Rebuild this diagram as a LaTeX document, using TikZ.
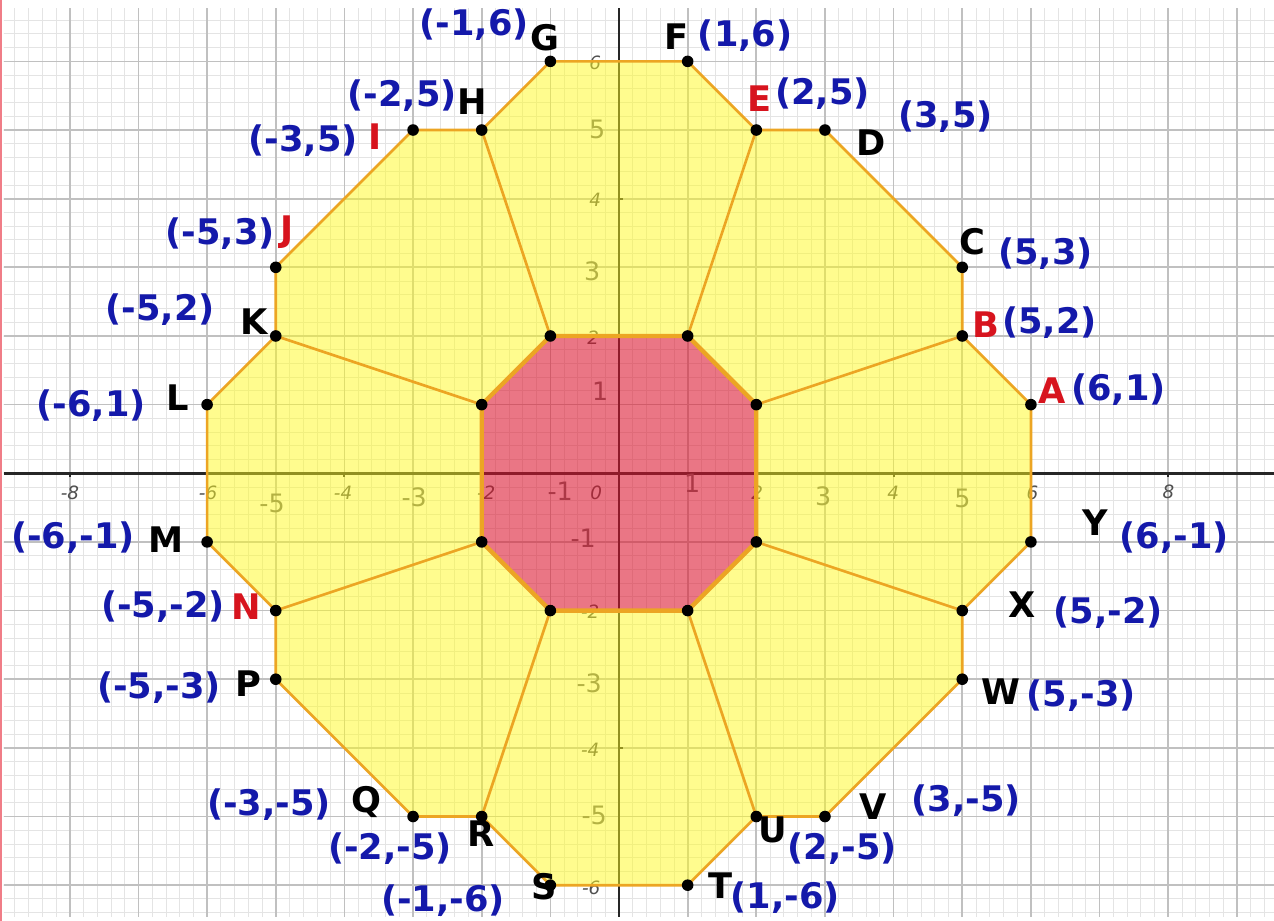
\documentclass[tikz,border=0pt]{standalone}
\usepackage{fontspec}
\newfontfamily\lbl{DejaVu Sans}
\definecolor{coordblue}{RGB}{20,25,170}
\definecolor{ptred}{RGB}{215,20,30}
\definecolor{edgeor}{RGB}{236,165,35}
\definecolor{petal}{RGB}{255,250,30}
\definecolor{core}{RGB}{220,20,45}
\definecolor{minorg}{RGB}{228,228,228}
\definecolor{majorg}{RGB}{192,192,192}
\definecolor{ticklbl}{RGB}{80,80,80}
\definecolor{leftbar}{RGB}{240,125,135}
\tikzset{
  coordlbl/.style={text=coordblue, font=\lbl\bfseries\fontsize{14.6}{16}\selectfont, inner sep=0pt},
  ptlbl/.style={text=black, font=\lbl\bfseries\fontsize{14.6}{16}\selectfont, inner sep=0pt},
  ptlblred/.style={text=ptred, font=\lbl\bfseries\fontsize{14.6}{16}\selectfont, inner sep=0pt},
  ticksmall/.style={text=ticklbl, font=\lbl\itshape\fontsize{7.6}{9}\selectfont, inner sep=0pt},
  tickbig/.style={text=ticklbl!85, font=\lbl\fontsize{10.5}{12}\selectfont, inner sep=0pt},
  dot/.style={circle, fill=black, inner sep=0pt, minimum size=4.8pt},
  edge/.style={edgeor, line width=1.1pt, line join=round, line cap=round},
  coreedge/.style={edgeor, line width=1.8pt, line join=round},
  axisline/.style={black!85, line width=1.2pt},
}
\begin{document}
\begin{tikzpicture}
\useasboundingbox (-9.017,-6.521) rectangle (9.541,6.894);
\fill[white] (-9.017,-6.521) rectangle (9.541,6.894);
% grid
\begin{scope}
\clip (-8.96,-6.462) rectangle (9.541,6.773);
\draw[minorg, line width=0.35pt, step=0.2] (-9.2,-6.8) grid (9.8,7);
\draw[majorg, line width=0.7pt, step=1] (-10,-7) grid (10,7);
\end{scope}
\fill[leftbar] (-9.017,-6.521) rectangle (-8.985,6.894);
% axes
\coordinate (xl) at (-8.96,0);
\coordinate (xr) at (9.541,0);
\coordinate (yt) at (0,6.773);
\coordinate (yb) at (0,-6.462);
\draw[axisline] (xl) -- (xr);
\draw[axisline] (yb) -- (yt);
\foreach \t in {-8,-6,-4,-2,2,4,6,8} {
  \draw[black!85, line width=0.8pt] (\t,0) -- (\t,-0.06);
}
\foreach \t in {-6,-4,-2,2,4,6} {
  \draw[black!85, line width=0.8pt] (0,\t) -- (0.06,\t);
}
% tick labels (pixel coordinates)
\begin{scope}[shift={(-9.017,6.894)}, x=0.014567cm, y=-0.014567cm]
\node[ticksmall] (tm8) at (70,493) {-8};
\node[ticksmall] (tm6) at (208,493) {-6};
\node[tickbig]   (tm5) at (272,503) {-5};
\node[ticksmall] (tm4) at (343,493) {-4};
\node[tickbig]   (tm3) at (414,497) {-3};
\node[ticksmall] (tm2) at (486,493) {-2};
\node[tickbig]   (tm1) at (560,491) {-1};
\node[ticksmall] (t0)  at (596,493) {0};
\node[tickbig]   (tp1) at (692,483) {1};
\node[ticksmall] (tp2) at (757,493) {2};
\node[tickbig]   (tp3) at (823,496) {3};
\node[ticksmall] (tp4) at (893,493) {4};
\node[tickbig]   (tp5) at (962,498) {5};
\node[ticksmall] (tp6) at (1032,493) {6};
\node[ticksmall] (tp8) at (1168,492) {8};
\node[ticksmall] (ty6) at (595,63) {6};
\node[tickbig]   (ty5) at (597,129) {5};
\node[ticksmall] (ty4) at (595,200) {4};
\node[tickbig]   (ty3) at (592,271) {3};
\node[ticksmall] (ty2) at (593,338) {2};
\node[tickbig]   (ty1) at (600,391) {1};
\node[tickbig]   (tym1) at (583,538) {-1};
\node[ticksmall] (tym2) at (590,611) {-2};
\node[tickbig]   (tym3) at (589,683) {-3};
\node[ticksmall] (tym4) at (590,750) {-4};
\node[tickbig]   (tym5) at (594,815) {-5};
\node[ticksmall] (tym6) at (591,887) {-6};
\end{scope}
% vertices
\coordinate (A) at (6,1);   \coordinate (B) at (5,2);   \coordinate (C) at (5,3);
\coordinate (D) at (3,5);   \coordinate (E) at (2,5);   \coordinate (F) at (1,6);
\coordinate (G) at (-1,6);  \coordinate (H) at (-2,5);  \coordinate (I) at (-3,5);
\coordinate (J) at (-5,3);  \coordinate (K) at (-5,2);  \coordinate (L) at (-6,1);
\coordinate (M) at (-6,-1); \coordinate (N) at (-5,-2); \coordinate (P) at (-5,-3);
\coordinate (Q) at (-3,-5); \coordinate (R) at (-2,-5); \coordinate (S) at (-1,-6);
\coordinate (T) at (1,-6);  \coordinate (U) at (2,-5);  \coordinate (V) at (3,-5);
\coordinate (W) at (5,-3);  \coordinate (X) at (5,-2);  \coordinate (Y) at (6,-1);
\coordinate (o1) at (1,2);   \coordinate (o2) at (2,1);   \coordinate (o3) at (2,-1);
\coordinate (o4) at (1,-2);  \coordinate (o5) at (-1,-2); \coordinate (o6) at (-2,-1);
\coordinate (o7) at (-2,1);  \coordinate (o8) at (-1,2);
% fills
\fill[petal, fill opacity=0.5, even odd rule]
  (A)--(B)--(C)--(D)--(E)--(F)--(G)--(H)--(I)--(J)--(K)--(L)--(M)--(N)--(P)--(Q)--(R)--(S)--(T)--(U)--(V)--(W)--(X)--(Y)--cycle
  (o1)--(o2)--(o3)--(o4)--(o5)--(o6)--(o7)--(o8)--cycle;
\fill[core, fill opacity=0.58] (o1)--(o2)--(o3)--(o4)--(o5)--(o6)--(o7)--(o8)--cycle;
% edges
\draw[edge] (A)--(B)--(C)--(D)--(E)--(F)--(G)--(H)--(I)--(J)--(K)--(L)--(M)--(N)--(P)--(Q)--(R)--(S)--(T)--(U)--(V)--(W)--(X)--(Y)--cycle;
\draw[edge] (o1)--(E) (o8)--(H) (o2)--(B) (o7)--(K) (o6)--(N) (o3)--(X) (o5)--(R) (o4)--(U);
\draw[coreedge] (o1)--(o2)--(o3)--(o4)--(o5)--(o6)--(o7)--(o8)--cycle;
% dots
\foreach \p in {A,B,C,D,E,F,G,H,I,J,K,L,M,N,P,Q,R,S,T,U,V,W,X,Y,o1,o2,o3,o4,o5,o6,o7,o8}
  \node[dot] (d\p) at (\p) {};
% labels (pixel coordinates)
\begin{scope}[shift={(-9.017,6.894)}, x=0.014567cm, y=-0.014567cm]
\node[coordlbl] (cG) at (474,25) {(-1,6)};
\node[ptlbl]    (lG) at (545,38) {G};
\node[ptlbl]    (lF) at (676,37) {F};
\node[coordlbl] (cF) at (745,36) {(1,6)};
\node[ptlblred] (lE) at (759,99) {E};
\node[coordlbl] (cE) at (822,94) {(2,5)};
\node[ptlbl]    (lD) at (871,143) {D};
\node[coordlbl] (cD) at (945,117) {(3,5)};
\node[ptlbl]    (lC) at (972,242) {C};
\node[coordlbl] (cC) at (1045,254) {(5,3)};
\node[ptlblred] (lB) at (986,325) {B};
\node[coordlbl] (cB) at (1049,323) {(5,2)};
\node[ptlblred] (lA) at (1052,391) {A};
\node[coordlbl] (cA) at (1118,389) {(6,1)};
\node[ptlbl]    (lY) at (1095,522) {Y};
\node[coordlbl] (cY) at (1174,537) {(6,-1)};
\node[ptlbl]    (lX) at (1022,604) {X};
\node[coordlbl] (cX) at (1108,612) {(5,-2)};
\node[ptlbl]    (lW) at (1001,691) {W};
\node[coordlbl] (cW) at (1081,695) {(5,-3)};
\node[ptlbl]    (lV) at (873,806) {V};
\node[coordlbl] (cV) at (966,800) {(3,-5)};
\node[ptlbl]    (lU) at (773,830) {U};
\node[coordlbl] (cU) at (842,848) {(2,-5)};
\node[ptlbl]    (lT) at (720,885) {T};
\node[coordlbl] (cT) at (785,897) {(1,-6)};
\node[ptlbl]    (lS) at (544,886) {S};
\node[coordlbl] (cS) at (443,900) {(-1,-6)};
\node[ptlbl]    (lR) at (481,833) {R};
\node[coordlbl] (cR) at (390,848) {(-2,-5)};
\node[ptlbl]    (lQ) at (366,802) {Q};
\node[coordlbl] (cQ) at (269,804) {(-3,-5)};
\node[ptlbl]    (lP) at (248,683) {P};
\node[coordlbl] (cP) at (159,687) {(-5,-3)};
\node[ptlblred] (lN) at (246,606) {N};
\node[coordlbl] (cN) at (163,606) {(-5,-2)};
\node[ptlbl]    (lM) at (166,539) {M};
\node[coordlbl] (cM) at (73,537) {(-6,-1)};
\node[ptlbl]    (lL) at (178,398) {L};
\node[coordlbl] (cL) at (91,405) {(-6,1)};
\node[ptlbl]    (lK) at (254,322) {K};
\node[coordlbl] (cK) at (160,310) {(-5,2)};
\node[ptlblred] (lJ) at (287,232) {J};
\node[coordlbl] (cJ) at (220,234) {(-5,3)};
\node[ptlblred] (lI) at (375,137) {I};
\node[coordlbl] (cI) at (303,141) {(-3,5)};
\node[coordlbl] (cH) at (402,96) {(-2,5)};
\node[ptlbl]    (lH) at (472,102) {H};
\end{scope}
\end{tikzpicture}
\end{document}
